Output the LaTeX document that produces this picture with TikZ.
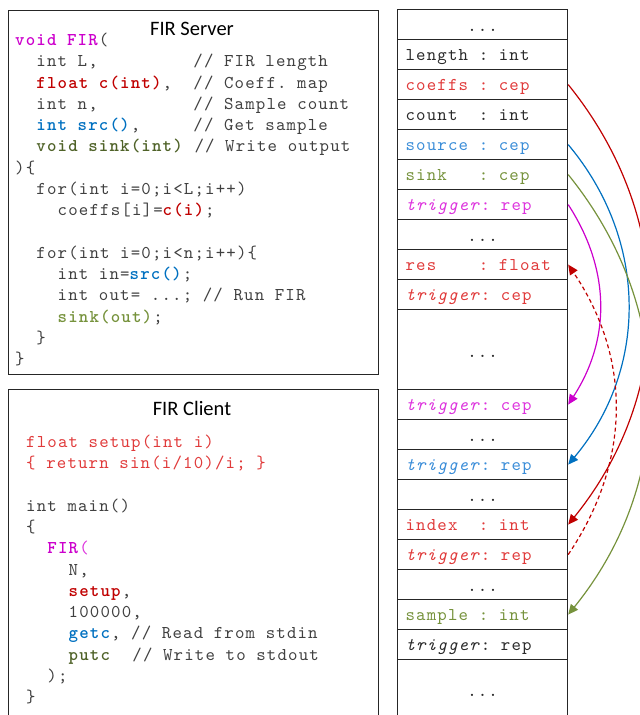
\documentclass[tikz,border=0pt]{standalone}
\usepackage{fontspec}
\setsansfont{Carlito}
\newfontfamily\cour{lmmono10-regular}[Extension=.otf, BoldFont=lmmonolt10-bold, ItalicFont=lmmono10-italic, BoldItalicFont=lmmonolt10-boldoblique, LetterSpace=6.5]
\usetikzlibrary{arrows.meta}
\definecolor{cgray}{HTML}{404040}
\definecolor{boxc}{HTML}{262626}
\definecolor{tblack}{HTML}{2A2A2A}
\definecolor{mag}{HTML}{CC00CC}
\definecolor{lmag}{HTML}{DD33DD}
\definecolor{dred}{HTML}{C00000}
\definecolor{lred}{HTML}{E03A3A}
\definecolor{dblue}{HTML}{0070C0}
\definecolor{lblue}{HTML}{3A8DD8}
\definecolor{dgreen}{HTML}{4F6228}
\definecolor{lgreen}{HTML}{76923C}
\newcommand\mycode{\cour\fontsize{18}{21.27}\selectfont}
\newcommand\bb[2]{\textcolor{#1}{\textbf{#2}}}
\newcommand\cl[1]{\makebox[154pt][l]{#1}}
\begin{document}
\begin{tikzpicture}[x=1pt,y=-1pt,
  box/.style={draw=boxc, line width=1.2pt, inner sep=0pt, anchor=north west},
  code/.style={anchor=base west, inner sep=0pt, font=\mycode, text=cgray},
  title/.style={anchor=base, inner sep=0pt, font=\sffamily\fontsize{20.5}{24}\selectfont, text=black},
  cell/.style={draw=boxc, line width=1.2pt, minimum width=170pt, minimum height=30pt,
    inner xsep=8pt, inner ysep=0pt, font=\mycode,
    text height=12pt, text depth=0pt, anchor=north west, text=tblack},
  dots/.style={cell, text height=14pt},
  arr/.style={line width=1.2pt, -{Triangle[length=10pt,width=9pt]}},
]
\useasboundingbox (0,0) rectangle (640,715);
\clip (0,0) rectangle (640,715);

% left boxes
\node[box, minimum width=370pt, minimum height=364pt] (server) at (7.5,9.5) {};
\node[box, minimum width=370pt, minimum height=340pt] (client) at (7.5,388.5) {};
\node[title] (st) at (192,35) {FIR Server};
\node[title] (ct) at (192,415) {FIR Client};

% server code
\node[code] (s0) at (15,45.5) {\bb{mag}{void~FIR}(};
\node[code] (s1) at (15,66.77) {~~int~L,~~~~~~~~~//~FIR~length};
\node[code] (s2) at (15,88.04) {~~\bb{dred}{float~c(int)},~~//~Coeff.~map};
\node[code] (s3) at (15,109.31) {~~int~n,~~~~~~~~~//~Sample~count};
\node[code] (s4) at (15,130.58) {~~\bb{dblue}{int~src()},~~~~~//~Get~sample};
\node[code] (s5) at (15,151.85) {~~\bb{dgreen}{void~sink(int)}~//~Write~output};
\node[code] (s6) at (15,173.12) {)\{};
\node[code] (s7) at (15,194.39) {~~for(int~i=0;i<L;i++)};
\node[code] (s8) at (15,215.66) {~~~~coeffs[i]=\bb{dred}{c(i)};};
\node[code] (s10) at (15,258.2) {~~for(int~i=0;i<n;i++)\{};
\node[code] (s11) at (15,279.47) {~~~~int~in=\bb{dblue}{src()};};
\node[code] (s12) at (15,300.74) {~~~~int~out=~...;~//~Run~FIR};
\node[code] (s13) at (15,322.01) {~~~~\bb{lgreen}{sink(out)};};
\node[code] (s14) at (15,343.28) {~~\}};
\node[code] (s15) at (15,364.55) {\}};

% client code
\node[code] (k0) at (26,447.5) {\textcolor{lred}{float~setup(int~i)}};
\node[code] (k1) at (26,468.77) {\textcolor{lred}{\{~return~sin(i/10)/i;~\}}};
\node[code] (k3) at (26,511.31) {int~main()};
\node[code] (k4) at (26,532.58) {\{};
\node[code] (k5) at (26,553.85) {~~\bb{mag}{FIR}\textcolor{lmag}{(}};
\node[code] (k6) at (26,575.12) {~~~~N,};
\node[code] (k7) at (26,596.39) {~~~~\bb{dred}{setup},};
\node[code] (k8) at (26,617.66) {~~~~100000,};
\node[code] (k9) at (26,638.93) {~~~~\bb{dblue}{getc},~//~Read~from~stdin};
\node[code] (k10) at (26,660.2) {~~~~\bb{dgreen}{putc}~~//~Write~to~stdout};
\node[code] (k11) at (26,681.47) {~~);};
\node[code] (k12) at (26,702.74) {\}};

% right column
\node[dots] (r1) at (397,9) {\makebox[154pt]{...}};
\node[cell] (r2) at (397,39) {\cl{length~:~int}};
\node[cell, text=lred] (r3) at (397,69) {\cl{coeffs~:~cep}};
\node[cell] (r4) at (397,99) {\cl{count~~:~int}};
\node[cell, text=lblue] (r5) at (397,129) {\cl{source~:~cep}};
\node[cell, text=lgreen] (r6) at (397,159) {\cl{sink~~~:~cep}};
\node[cell, text=lmag] (r7) at (397,189) {\cl{\textit{trigger}:~rep}};
\node[dots] (r8) at (397,219) {\makebox[154pt]{...}};
\node[cell, text=lred] (r9) at (397,249) {\cl{res~~~~:~float}};
\node[cell, text=lred] (r10) at (397,279) {\cl{\textit{trigger}:~cep}};
\node[dots, minimum height=80pt, text height=16pt] (r11) at (397,309) {\makebox[154pt]{...}};
\node[cell, text=lmag] (r12) at (397,389) {\cl{\textit{trigger}:~cep}};
\node[dots] (r13) at (397,419) {\makebox[154pt]{...}};
\node[cell, text=lblue] (r14) at (397,449) {\cl{\textit{trigger}:~rep}};
\node[dots] (r15) at (397,479) {\makebox[154pt]{...}};
\node[cell, text=lred] (r16) at (397,509) {\cl{index~~:~int}};
\node[cell, text=lred] (r17) at (397,539) {\cl{\textit{trigger}:~rep}};
\node[dots] (r18) at (397,569) {\makebox[154pt]{...}};
\node[cell, text=lgreen] (r19) at (397,599) {\cl{sample~:~int}};
\node[cell] (r20) at (397,629) {\cl{\textit{trigger}:~rep}};
\node[dots, minimum height=58pt, text height=16pt] (r21) at (397,659) {\makebox[154pt]{...}};

% connectors
\draw[arr, dred] (r3.east) to[bend left=39] (r16.east);
\draw[arr, dblue] (r5.east) to[bend left=40] (r14.east);
\draw[arr, lgreen] (r6.east) to[bend left=39] (r19.east);
\draw[arr, mag] (r7.east) to[bend left=33] (r12.east);
\draw[arr, dred, dash pattern=on 4pt off 3pt] (r17.east) to[bend right=34] (r9.east);
\end{tikzpicture}
\end{document}
